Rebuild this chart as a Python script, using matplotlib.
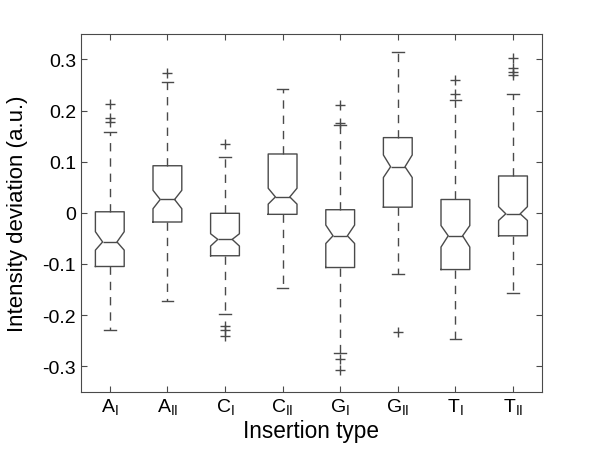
import matplotlib.pyplot as plt

plt.rcParams['font.family'] = ['Liberation Sans', 'DejaVu Sans']
plt.rcParams['mathtext.fontset'] = 'custom'
plt.rcParams['mathtext.rm'] = 'Liberation Sans'

# === Data ===
labels = ["A$_\\mathregular{I}$", "A$_\\mathregular{II}$", "C$_\\mathregular{I}$", "C$_\\mathregular{II}$",
          "G$_\\mathregular{I}$", "G$_\\mathregular{II}$", "T$_\\mathregular{I}$", "T$_\\mathregular{II}$"]
medians = [-0.057, 0.026, -0.052, 0.031, -0.045, 0.090, -0.045, -0.002]
q1 = [-0.105, -0.018, -0.084, -0.003, -0.107, 0.011, -0.111, -0.045]
q3 = [0.002, 0.092, -0.001, 0.115, 0.006, 0.147, 0.026, 0.072]
ci_lo = [-0.073, 0.008, -0.065, 0.017, -0.060, 0.069, -0.067, -0.015]
ci_hi = [-0.037, 0.044, -0.041, 0.048, -0.024, 0.113, -0.025, 0.012]
wh_lo = [-0.229, -0.173, -0.197, -0.147, -0.274, -0.119, -0.247, -0.157]
wh_hi = [0.158, 0.255, 0.110, 0.242, 0.171, 0.314, 0.220, 0.233]
outliers = [
    [0.213, 0.185, 0.178],
    [0.273],
    [0.135, -0.222, -0.230, -0.241],
    [],
    [0.211, 0.176, -0.286, -0.307],
    [-0.233],
    [0.259, 0.233],
    [0.302, 0.283, 0.276, 0.270],
]

stats = []
for i in range(len(labels)):
    stats.append({
        "med": medians[i], "q1": q1[i], "q3": q3[i],
        "cilo": ci_lo[i], "cihi": ci_hi[i],
        "whislo": wh_lo[i], "whishi": wh_hi[i],
        "fliers": outliers[i], "label": labels[i],
    })

col = "#4a4a4a"
fig = plt.figure(figsize=(6, 4.52), dpi=100)
ax = fig.add_axes([0.135, 0.131, 0.768, 0.792])

ax.bxp(stats, positions=range(1, 9), widths=0.5, capwidths=0.2, shownotches=True,
       boxprops=dict(color=col, linewidth=1.0),
       medianprops=dict(color=col, linewidth=1.0),
       whiskerprops=dict(color=col, linewidth=1.0, linestyle=(0, (6, 5))),
       capprops=dict(color=col, linewidth=1.0),
       flierprops=dict(marker='+', markeredgecolor=col, markersize=7, linestyle='none'))

ax.set_xlim(0.5, 8.5)
ax.set_ylim(-0.35, 0.35)
ax.set_yticks([-0.3, -0.2, -0.1, 0, 0.1, 0.2, 0.3])
ax.set_yticklabels(["-0.3", "-0.2", "-0.1", "0", "0.1", "0.2", "0.3"])
ax.tick_params(direction='in', top=True, right=True, labelsize=14, length=4, color=col)
for s in ax.spines.values():
    s.set_color(col)
ax.set_xlabel("Insertion type", fontsize=16.3)
ax.set_ylabel("Intensity deviation (a.u.)", fontsize=16)
ax.xaxis.set_label_coords(0.5, -0.076)
ax.yaxis.set_label_coords(-0.115, 0.5)

plt.savefig("out.png")
plt.close()
